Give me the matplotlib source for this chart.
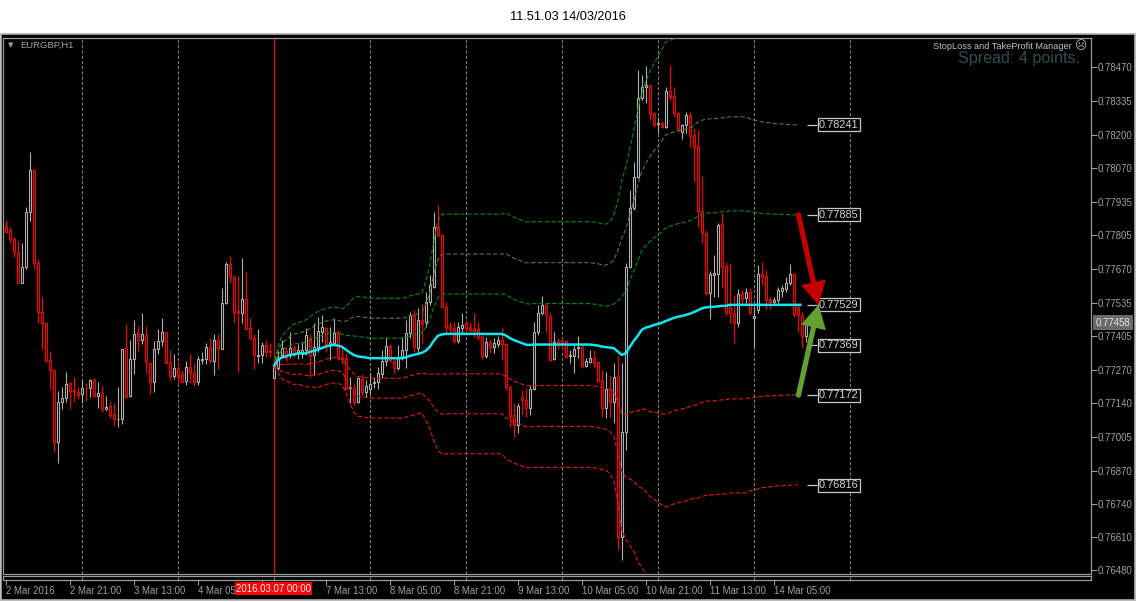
import numpy as np
import pandas as pd
import matplotlib
matplotlib.use("Agg")
import matplotlib.pyplot as plt
from matplotlib.patches import Rectangle

plt.rcParams['font.family'] = ['Liberation Sans', 'DejaVu Sans']

# ---------------- data (EURGBP, H1) ----------------
first_bar = "2016-03-02 05:00"
opens = [0.77841, 0.77825, 0.77790, 0.77737, 0.77614, 0.77677, 0.77898, 0.78062, 0.77693, 0.77502,
         0.77458, 0.77310, 0.77270, 0.76988, 0.77143, 0.77161, 0.77219, 0.77192, 0.77183, 0.77175,
         0.77201, 0.77199, 0.77232, 0.77170, 0.77179, 0.77116, 0.77129, 0.77098, 0.77076, 0.77076,
         0.77357, 0.77168, 0.77315, 0.77416, 0.77390, 0.77408, 0.77300, 0.77225, 0.77353, 0.77385,
         0.77420, 0.77302, 0.77249, 0.77278, 0.77254, 0.77226, 0.77282, 0.77258, 0.77225, 0.77311,
         0.77313, 0.77361, 0.77308, 0.77390, 0.77356, 0.77535, 0.77691, 0.77638, 0.77505, 0.77495,
         0.77551, 0.77436, 0.77397, 0.77328, 0.77331, 0.77369, 0.77348, 0.77241, 0.77278, 0.77331,
         0.77347, 0.77334, 0.77357, 0.77344, 0.77334, 0.77350, 0.77399, 0.77331, 0.77364, 0.77423,
         0.77439, 0.77373, 0.77377, 0.77416, 0.77324, 0.77320, 0.77199, 0.77199, 0.77144, 0.77236,
         0.77186, 0.77197, 0.77219, 0.77223, 0.77254, 0.77307, 0.77366, 0.77307, 0.77280, 0.77317,
         0.77350, 0.77416, 0.77489, 0.77357, 0.77469, 0.77462, 0.77541, 0.77601, 0.77838, 0.77805,
         0.77519, 0.77445, 0.77436, 0.77387, 0.77437, 0.77456, 0.77440, 0.77436, 0.77432, 0.77406,
         0.77327, 0.77383, 0.77364, 0.77375, 0.77390, 0.77374, 0.77205, 0.77092, 0.77054, 0.77166,
         0.77153, 0.77120, 0.77195, 0.77423, 0.77496, 0.77529, 0.77485, 0.77314, 0.77387, 0.77387,
         0.77386, 0.77327, 0.77327, 0.77357, 0.77364, 0.77287, 0.77304, 0.77317, 0.77302, 0.77232,
         0.77120, 0.77195, 0.77146, 0.77248, 0.76612, 0.77027, 0.77680, 0.77911, 0.78036, 0.78346,
         0.78392, 0.78399, 0.78287, 0.78245, 0.78247, 0.78234, 0.78376, 0.78355, 0.78289, 0.78214,
         0.78241, 0.78280, 0.78201, 0.78157, 0.77900, 0.77815, 0.77577, 0.77646, 0.77651, 0.77849,
         0.77683, 0.77519, 0.77496, 0.77456, 0.77572, 0.77555, 0.77581, 0.77477, 0.77509, 0.77651,
         0.77643, 0.77552, 0.77541, 0.77548, 0.77585, 0.77591, 0.77614, 0.77651, 0.77520, 0.77490,
         0.77405]
highs = [0.77865, 0.77836, 0.77796, 0.77786, 0.77772, 0.77915, 0.78132, 0.78065, 0.77710, 0.77559,
         0.77460, 0.77346, 0.77272, 0.77190, 0.77205, 0.77262, 0.77221, 0.77242, 0.77205, 0.77232,
         0.77219, 0.77237, 0.77239, 0.77224, 0.77208, 0.77168, 0.77150, 0.77139, 0.77204, 0.77356,
         0.77453, 0.77390, 0.77469, 0.77447, 0.77497, 0.77445, 0.77302, 0.77385, 0.77434, 0.77477,
         0.77422, 0.77352, 0.77336, 0.77304, 0.77271, 0.77306, 0.77333, 0.77300, 0.77328, 0.77342,
         0.77379, 0.77397, 0.77414, 0.77414, 0.77594, 0.77700, 0.77722, 0.77646, 0.77643, 0.77714,
         0.77658, 0.77477, 0.77414, 0.77434, 0.77383, 0.77390, 0.77379, 0.77298, 0.77345, 0.77390,
         0.77364, 0.77423, 0.77370, 0.77373, 0.77383, 0.77436, 0.77413, 0.77456, 0.77482, 0.77489,
         0.77443, 0.77443, 0.77476, 0.77430, 0.77357, 0.77337, 0.77245, 0.77219, 0.77245, 0.77254,
         0.77232, 0.77258, 0.77245, 0.77284, 0.77350, 0.77403, 0.77373, 0.77324, 0.77370, 0.77403,
         0.77469, 0.77502, 0.77509, 0.77515, 0.77534, 0.77581, 0.77647, 0.77898, 0.77925, 0.77808,
         0.77539, 0.77462, 0.77462, 0.77462, 0.77496, 0.77469, 0.77462, 0.77496, 0.77462, 0.77410,
         0.77403, 0.77390, 0.77397, 0.77406, 0.77436, 0.77377, 0.77212, 0.77139, 0.77139, 0.77192,
         0.77199, 0.77212, 0.77462, 0.77529, 0.77565, 0.77535, 0.77496, 0.77423, 0.77397, 0.77399,
         0.77390, 0.77350, 0.77377, 0.77406, 0.77370, 0.77318, 0.77350, 0.77350, 0.77305, 0.77271,
         0.77265, 0.77252, 0.77298, 0.77331, 0.77298, 0.77693, 0.77983, 0.78095, 0.78458, 0.78438,
         0.78474, 0.78400, 0.78290, 0.78273, 0.78255, 0.78392, 0.78478, 0.78392, 0.78293, 0.78245,
         0.78293, 0.78293, 0.78228, 0.78221, 0.78038, 0.77825, 0.77664, 0.77726, 0.77852, 0.77891,
         0.77700, 0.77693, 0.77568, 0.77590, 0.77588, 0.77594, 0.77594, 0.77522, 0.77687, 0.77700,
         0.77667, 0.77561, 0.77561, 0.77599, 0.77608, 0.77640, 0.77691, 0.77655, 0.77530, 0.77500,
         0.77469]
lows = [0.77812, 0.77775, 0.77720, 0.77614, 0.77614, 0.77670, 0.77862, 0.77672, 0.77459, 0.77353,
        0.77306, 0.77195, 0.76948, 0.76905, 0.77118, 0.77145, 0.77116, 0.77145, 0.77157, 0.77139,
        0.77150, 0.77166, 0.77166, 0.77120, 0.77106, 0.77113, 0.77080, 0.77050, 0.77047, 0.77058,
        0.77160, 0.77166, 0.77254, 0.77342, 0.77374, 0.77261, 0.77176, 0.77183, 0.77336, 0.77368,
        0.77298, 0.77232, 0.77236, 0.77212, 0.77222, 0.77212, 0.77219, 0.77209, 0.77213, 0.77295,
        0.77295, 0.77300, 0.77250, 0.77274, 0.77356, 0.77531, 0.77617, 0.77459, 0.77262, 0.77459,
        0.77432, 0.77395, 0.77274, 0.77300, 0.77298, 0.77324, 0.77324, 0.77238, 0.77270, 0.77318,
        0.77305, 0.77320, 0.77324, 0.77315, 0.77317, 0.77331, 0.77245, 0.77252, 0.77344, 0.77383,
        0.77344, 0.77311, 0.77370, 0.77311, 0.77294, 0.77192, 0.77140, 0.77133, 0.77140, 0.77172,
        0.77166, 0.77175, 0.77202, 0.77195, 0.77238, 0.77288, 0.77304, 0.77258, 0.77271, 0.77311,
        0.77278, 0.77397, 0.77344, 0.77337, 0.77379, 0.77443, 0.77529, 0.77595, 0.77799, 0.77516,
        0.77417, 0.77417, 0.77380, 0.77379, 0.77417, 0.77417, 0.77417, 0.77403, 0.77390, 0.77314,
        0.77317, 0.77337, 0.77337, 0.77361, 0.77311, 0.77192, 0.77047, 0.77007, 0.77021, 0.77093,
        0.77087, 0.77093, 0.77192, 0.77410, 0.77489, 0.77423, 0.77308, 0.77311, 0.77353, 0.77351,
        0.77318, 0.77298, 0.77261, 0.77318, 0.77278, 0.77282, 0.77298, 0.77284, 0.77225, 0.77087,
        0.77080, 0.77087, 0.77063, 0.76559, 0.76520, 0.76955, 0.77674, 0.77904, 0.78030, 0.78339,
        0.78326, 0.78260, 0.78234, 0.78208, 0.78227, 0.78227, 0.78340, 0.78273, 0.78214, 0.78184,
        0.78208, 0.78155, 0.78016, 0.77838, 0.77773, 0.77568, 0.77472, 0.77561, 0.77561, 0.77594,
        0.77489, 0.77456, 0.77377, 0.77440, 0.77533, 0.77535, 0.77489, 0.77364, 0.77496, 0.77608,
        0.77511, 0.77511, 0.77535, 0.77538, 0.77561, 0.77581, 0.77608, 0.77480, 0.77420, 0.77357,
        0.77382]
closes = [0.77819, 0.77788, 0.77737, 0.77614, 0.77677, 0.77895, 0.78063, 0.77693, 0.77502, 0.77459,
          0.77308, 0.77270, 0.76988, 0.77143, 0.77161, 0.77216, 0.77190, 0.77188, 0.77171, 0.77199,
          0.77199, 0.77232, 0.77168, 0.77179, 0.77116, 0.77125, 0.77095, 0.77076, 0.77079, 0.77354,
          0.77164, 0.77315, 0.77412, 0.77390, 0.77412, 0.77304, 0.77225, 0.77354, 0.77385, 0.77420,
          0.77300, 0.77249, 0.77278, 0.77245, 0.77225, 0.77282, 0.77258, 0.77225, 0.77315, 0.77315,
          0.77361, 0.77308, 0.77390, 0.77357, 0.77535, 0.77691, 0.77638, 0.77502, 0.77498, 0.77551,
          0.77435, 0.77397, 0.77331, 0.77331, 0.77370, 0.77344, 0.77341, 0.77284, 0.77320, 0.77357,
          0.77318, 0.77357, 0.77331, 0.77350, 0.77350, 0.77410, 0.77328, 0.77364, 0.77426, 0.77443,
          0.77373, 0.77383, 0.77416, 0.77317, 0.77315, 0.77196, 0.77205, 0.77144, 0.77238, 0.77186,
          0.77208, 0.77215, 0.77223, 0.77258, 0.77307, 0.77366, 0.77311, 0.77280, 0.77320, 0.77350,
          0.77416, 0.77489, 0.77364, 0.77469, 0.77455, 0.77541, 0.77608, 0.77838, 0.77805, 0.77522,
          0.77443, 0.77435, 0.77387, 0.77443, 0.77450, 0.77436, 0.77430, 0.77427, 0.77403, 0.77327,
          0.77383, 0.77361, 0.77379, 0.77390, 0.77374, 0.77205, 0.77089, 0.77054, 0.77129, 0.77153,
          0.77120, 0.77195, 0.77423, 0.77496, 0.77529, 0.77489, 0.77311, 0.77383, 0.77374, 0.77377,
          0.77324, 0.77331, 0.77353, 0.77364, 0.77287, 0.77308, 0.77317, 0.77298, 0.77229, 0.77120,
          0.77195, 0.77146, 0.77243, 0.76612, 0.77027, 0.77680, 0.77911, 0.78036, 0.78346, 0.78390,
          0.78399, 0.78286, 0.78240, 0.78250, 0.78234, 0.78376, 0.78353, 0.78287, 0.78221, 0.78241,
          0.78280, 0.78197, 0.78155, 0.77902, 0.77814, 0.77577, 0.77651, 0.77655, 0.77845, 0.77680,
          0.77496, 0.77496, 0.77456, 0.77572, 0.77551, 0.77581, 0.77502, 0.77485, 0.77651, 0.77641,
          0.77548, 0.77541, 0.77548, 0.77588, 0.77594, 0.77614, 0.77651, 0.77492, 0.77490, 0.77405,
          0.77458]

# VWAP indicator anchored at 2016.03.07 00:00, and its standard deviation
vwap_anchor = "2016-03-07 00:00"
vwap = [0.77284, 0.77311, 0.77321, 0.77325, 0.77331, 0.77333, 0.77337, 0.77337, 0.77337, 0.77343,
        0.77347, 0.77352, 0.77358, 0.77364, 0.77368, 0.77370, 0.77368, 0.77364, 0.77352, 0.77341,
        0.77331, 0.77325, 0.77323, 0.77321, 0.77318, 0.77318, 0.77318, 0.77318, 0.77318, 0.77318,
        0.77318, 0.77318, 0.77318, 0.77321, 0.77327, 0.77331, 0.77335, 0.77339, 0.77347, 0.77362,
        0.77386, 0.77406, 0.77412, 0.77414, 0.77414, 0.77414, 0.77414, 0.77414, 0.77414, 0.77414,
        0.77414, 0.77414, 0.77414, 0.77414, 0.77414, 0.77414, 0.77414, 0.77414, 0.77408, 0.77398,
        0.77390, 0.77384, 0.77378, 0.77372, 0.77370, 0.77372, 0.77372, 0.77372, 0.77372, 0.77372,
        0.77372, 0.77372, 0.77372, 0.77372, 0.77372, 0.77372, 0.77372, 0.77372, 0.77372, 0.77372,
        0.77370, 0.77368, 0.77364, 0.77362, 0.77360, 0.77358, 0.77345, 0.77331, 0.77337, 0.77362,
        0.77386, 0.77406, 0.77430, 0.77439, 0.77443, 0.77449, 0.77453, 0.77458, 0.77465, 0.77471,
        0.77477, 0.77482, 0.77485, 0.77489, 0.77494, 0.77500, 0.77507, 0.77515, 0.77519, 0.77521,
        0.77521, 0.77523, 0.77525, 0.77525, 0.77529, 0.77529, 0.77529, 0.77529, 0.77529, 0.77529,
        0.77529, 0.77529, 0.77529, 0.77529, 0.77529, 0.77529, 0.77529, 0.77529, 0.77529, 0.77529,
        0.77529, 0.77529, 0.77529]
vwap_sd = [0.00000, 0.00016, 0.00028, 0.00032, 0.00036, 0.00040, 0.00040, 0.00042, 0.00044, 0.00046,
           0.00048, 0.00050, 0.00050, 0.00050, 0.00050, 0.00050, 0.00050, 0.00050, 0.00056, 0.00066,
           0.00075, 0.00079, 0.00079, 0.00079, 0.00079, 0.00079, 0.00079, 0.00079, 0.00079, 0.00079,
           0.00079, 0.00079, 0.00079, 0.00079, 0.00079, 0.00079, 0.00079, 0.00079, 0.00091, 0.00107,
           0.00131, 0.00150, 0.00158, 0.00158, 0.00158, 0.00158, 0.00158, 0.00158, 0.00158, 0.00158,
           0.00158, 0.00158, 0.00158, 0.00158, 0.00158, 0.00158, 0.00158, 0.00158, 0.00162, 0.00162,
           0.00162, 0.00162, 0.00162, 0.00162, 0.00162, 0.00162, 0.00162, 0.00162, 0.00162, 0.00162,
           0.00162, 0.00162, 0.00162, 0.00162, 0.00162, 0.00162, 0.00162, 0.00162, 0.00162, 0.00162,
           0.00162, 0.00162, 0.00162, 0.00162, 0.00166, 0.00174, 0.00198, 0.00230, 0.00245, 0.00261,
           0.00277, 0.00297, 0.00313, 0.00324, 0.00336, 0.00344, 0.00352, 0.00360, 0.00368, 0.00368,
           0.00368, 0.00368, 0.00368, 0.00368, 0.00368, 0.00368, 0.00372, 0.00372, 0.00372, 0.00372,
           0.00372, 0.00372, 0.00372, 0.00372, 0.00372, 0.00372, 0.00372, 0.00372, 0.00372, 0.00368,
           0.00366, 0.00364, 0.00362, 0.00361, 0.00360, 0.00359, 0.00358, 0.00358, 0.00357, 0.00357,
           0.00356, 0.00356, 0.00356]

level_prices = [0.78241, 0.77885, 0.77529, 0.77369, 0.77172, 0.76816]
price_ticks = [0.78470, 0.78335, 0.78200, 0.78070, 0.77935, 0.77805, 0.77670, 0.77535,
               0.77405, 0.77270, 0.77140, 0.77005, 0.76870, 0.76740, 0.76610, 0.76480]
time_tick_times = ["2016-03-02 05:00", "2016-03-02 21:00", "2016-03-03 13:00", "2016-03-04 05:00",
                   "2016-03-04 21:00", "2016-03-07 13:00", "2016-03-08 05:00", "2016-03-08 21:00",
                   "2016-03-09 13:00", "2016-03-10 05:00", "2016-03-10 21:00", "2016-03-11 13:00",
                   "2016-03-14 05:00"]
# labels as visible on the reference (two are partly/fully covered by the cursor date box)
time_tick_labels = ["2 Mar 2016", "2 Mar 21:00", "3 Mar 13:00", "4 Mar 05", "",
                    "7 Mar 13:00", "8 Mar 05:00", "8 Mar 21:00", "9 Mar 13:00", "10 Mar 05:00",
                    "10 Mar 21:00", "11 Mar 13:00", "14 Mar 05:00"]
title_text = "11.51.03 14/03/2016"
symbol_text = "EURGBP,H1"
spread_text = "Spread: 4 points."
manager_text = "StopLoss and TakeProfit Manager"
cursor_label = "2016.03.07 00:00"

# ---------------- helpers ----------------
W, H = 1136, 602
def fx(px):
    return px / W
def fy(py):
    return 1 - py / H

o = np.array(opens); hi = np.array(highs); lo = np.array(lows); c = np.array(closes)
n = len(o)
all_hours = pd.date_range(first_bar, periods=24 * 20, freq="h")
all_hours = all_hours[all_hours.dayofweek < 5]
pos_of = {t: i for i, t in enumerate(all_hours)}
idx = np.arange(n)
i_anchor = pos_of[pd.Timestamp(vwap_anchor)]
vx = np.arange(i_anchor, i_anchor + len(vwap))
vw = np.array(vwap); sd = np.array(vwap_sd)

BULL = "#b0b0b0"; BEAR = "#ff0000"; FRAME = "#9a9a9a"; TXT = "#a0a0a0"
CYAN = "#10e8f0"; GREEN = "#0a8a0a"; OLIVE = "#5f7530"; RED = "#e8141e"

fig = plt.figure(figsize=(W / 100, H / 100), dpi=100, facecolor="white")
fig.patches.append(Rectangle((fx(0.5), fy(599.5)), fx(1135) - fx(0.5), fy(34) - fy(599.5),
                             transform=fig.transFigure, facecolor="black", edgecolor="#b0b0b0",
                             linewidth=1.2, zorder=-10))

L, R, T, B = 3.5, 1090.5, 37.5, 573.5
ax = fig.add_axes([fx(L), fy(B), fx(R) - fx(L), fy(T) - fy(B)])
ax.set_zorder(2)
ax.set_facecolor("black")
x0 = (L - 5.67) / 4.0
x1 = (R - 5.67) / 4.0
ax.set_xlim(x0, x1)
ax.set_ylim(0.78470 - (B - 67) / 25277.0, 0.78470 + (67 - T) / 25277.0)
for s in ax.spines.values():
    s.set_color(FRAME); s.set_linewidth(0.9)

grid_days = [i for i, t in enumerate(all_hours) if t.hour == 0 and i < 215]
for g in grid_days:
    ax.axvline(g, color="#808080", lw=0.75, ls=(0, (3, 2)), zorder=1)

ax.axvline(i_anchor, color="#ff0000", lw=0.8, zorder=1.5)

colors = np.where(c >= o, BULL, BEAR)
ax.vlines(idx, lo, hi, colors=colors, lw=0.8, zorder=2)
blo = np.minimum(o, c); bhi = np.maximum(o, c)
ax.bar(idx, np.maximum(bhi - blo, 0.00001), bottom=blo, width=0.5, facecolor="black",
       edgecolor=colors, linewidth=0.8, zorder=3)

band_style = dict(lw=0.8, ls=(0, (4, 2)), zorder=4)
for k, col in [(1, GREEN), (2, OLIVE), (3, GREEN)]:
    ax.plot(vx[:-1], (vw + k * sd)[:-1], color=col, **band_style)
    ax.plot(vx[:-1], (vw - k * sd)[:-1], color=RED, **band_style)
ax.plot(vx, vw, color=CYAN, lw=1.8, zorder=5, solid_capstyle="butt")

lab_x0 = n - 0.6
lab_x1 = n + 1.9
for p in level_prices:
    ax.hlines(p, lab_x0, lab_x1, color="#c8c8c8", lw=0.9, zorder=6)
    ax.text(lab_x1 + 0.45, p, f"{p:.5f}", color="#d4d4d4", fontsize=7.9, va="center", ha="left",
            zorder=7, bbox=dict(boxstyle="square,pad=0.13", fc="black", ec="#c8c8c8", lw=0.9))

up1 = level_prices[1]; dn1 = level_prices[4]; mid = level_prices[2]
ax_start = vx[-2] + 0.2
ax_end = lab_x1 + 0.3
for p0, col in [(up1, "#c40000"), (dn1, "#62a030")]:
    ax.annotate("", xy=(ax_end, mid), xytext=(ax_start, p0),
                arrowprops=dict(arrowstyle="-|>,head_length=0.9,head_width=0.5", color=col,
                                lw=3.8, shrinkA=0, shrinkB=0, mutation_scale=12,
                                capstyle="round", joinstyle="miter"), zorder=8)

ax.yaxis.tick_right()
ax.set_yticks(price_ticks)
ax.set_yticklabels([f"{v:.5f}" for v in price_ticks])
ax.tick_params(axis="y", colors=FRAME, labelcolor=TXT, length=4, width=0.8, labelsize=6.9, pad=1.2)
ax.set_xticks([])

ax.annotate(f"{c[-1]:.5f}", xy=(1, c[-1]), xycoords=("axes fraction", "data"),
            xytext=(3.6, 0), textcoords="offset points", va="center", ha="left", fontsize=6.9,
            color="#e6e6e6", annotation_clip=False, zorder=9,
            bbox=dict(boxstyle="square,pad=0.25", fc="#6a6a6a", ec="none"))

ax2 = fig.add_axes([fx(L), fy(579.5), fx(R) - fx(L), fy(575.5) - fy(579.5)])
ax2.set_zorder(2)
ax2.set_facecolor("black")
ax2.set_xlim(x0, x1)
ax2.set_yticks([])
for s in ax2.spines.values():
    s.set_color(FRAME); s.set_linewidth(0.9)
for g in grid_days:
    ax2.axvline(g, color="#808080", lw=0.75, ls=(0, (3, 2)))
tick_pos = [pos_of[pd.Timestamp(t)] for t in time_tick_times]
ax2.set_xticks(tick_pos)
ax2.set_xticklabels(time_tick_labels)
for lab in ax2.get_xticklabels():
    lab.set_ha("left")
ax2.tick_params(axis="x", colors=FRAME, labelcolor=TXT, length=3.5, width=0.8, labelsize=6.9, pad=1.5)

fig.text(fx(273.5), fy(588.5), cursor_label, color="white", fontsize=6.9, ha="center", va="center",
         zorder=10, bbox=dict(boxstyle="square,pad=0.14", fc="#ff0000", ec="none"))

fig.text(0.5, fy(17), title_text, ha="center", va="center", fontsize=9.2, color="black")
fig.text(fx(11), fy(45.5), "\u25BC", ha="center", va="center", fontsize=5, color=TXT,
         family=["DejaVu Sans"], zorder=10)
fig.text(fx(20), fy(45.5), symbol_text, ha="left", va="center", fontsize=6.8, color=TXT, zorder=10)
fig.text(fx(1072), fy(46.5), manager_text, ha="right", va="center", fontsize=6.6, color="#c0c0c0",
         zorder=10)
fig.text(fx(1080), fy(45.5), "\u2639", ha="center", va="center", fontsize=8.5, color="#c0c0c0",
         family=["DejaVu Sans"], zorder=10)
fig.text(fx(1080), fy(58.5), spread_text, ha="right", va="center", fontsize=11.6, color="#2f4f4f",
         zorder=10)

fig.savefig("out.png", dpi=100, facecolor="white")
